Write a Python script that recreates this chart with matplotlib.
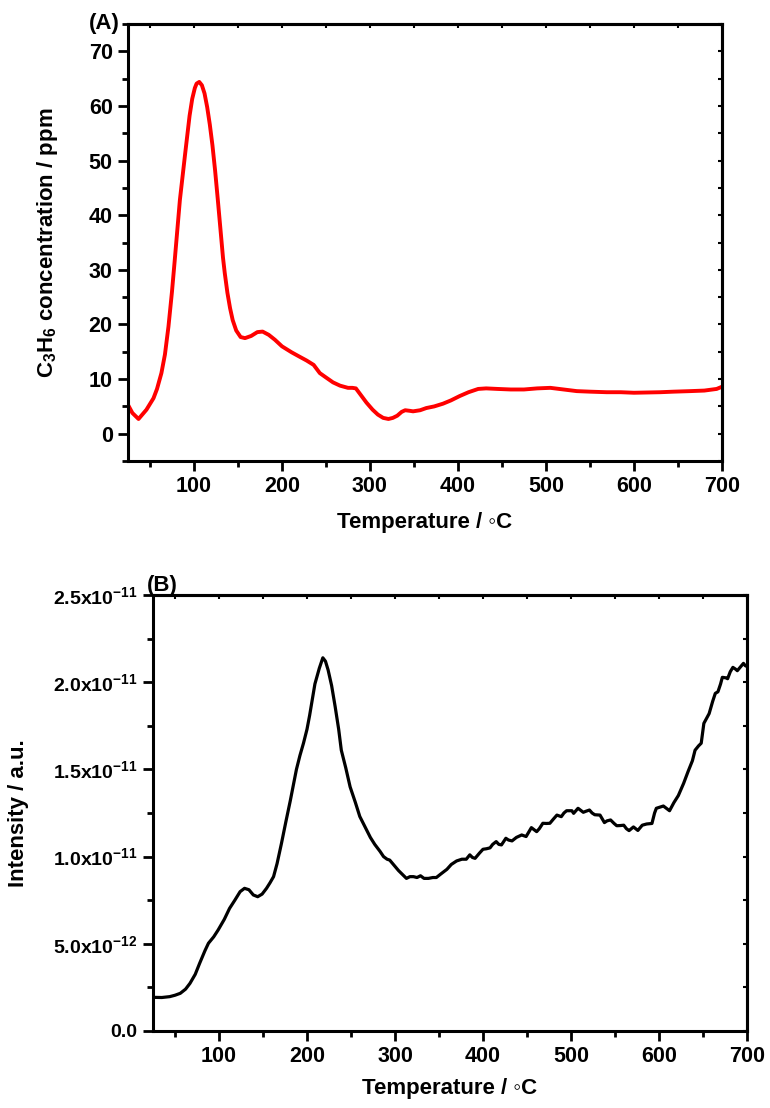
import matplotlib
matplotlib.use("Agg")
import matplotlib.pyplot as plt
from matplotlib.ticker import MultipleLocator, FuncFormatter

plt.rcParams['font.family'] = ['Liberation Sans', 'DejaVu Sans']
plt.rcParams['font.weight'] = 'bold'
plt.rcParams['mathtext.fontset'] = 'custom'
plt.rcParams['mathtext.rm'] = 'Liberation Sans:bold'
plt.rcParams['mathtext.bf'] = 'Liberation Sans:bold'
plt.rcParams['mathtext.it'] = 'Liberation Sans:bold'

# (A) C3H6 concentration during TPD
temp_a = [25, 30, 37, 46, 54, 58, 63, 67, 71, 75, 78, 84, 90, 95, 98, 101, 103, 106,
          109, 112, 115, 118, 121, 124, 127, 130, 133, 135, 138, 141, 144, 148, 153,
          158, 165, 172, 178, 185, 192, 200, 211, 220, 228, 236, 243, 250, 258, 266,
          275, 280, 284, 290, 296, 303, 309, 315, 321, 326, 331, 336, 340, 345, 349,
          357, 364, 373, 383, 392, 402, 412, 423, 432, 445, 460, 475, 490, 505, 520,
          535, 550, 569, 585, 600, 615, 630, 645, 664, 680, 694, 700]
c3h6_ppm = [5.3, 3.8, 2.7, 4.4, 6.5, 8.2, 11.1, 14.5, 19.6, 26.0, 31.5, 42.8, 51.3,
            58.2, 61.3, 63.3, 64.1, 64.4, 63.8, 62.3, 59.8, 56.6, 52.8, 48.2, 43.0,
            37.6, 32.2, 29.4, 25.8, 23.0, 20.8, 18.9, 17.7, 17.5, 17.9, 18.6, 18.7,
            18.1, 17.2, 16.0, 14.9, 14.1, 13.4, 12.6, 11.1, 10.3, 9.4, 8.8, 8.4,
            8.4, 8.3, 7.0, 5.7, 4.4, 3.5, 2.9, 2.7, 2.9, 3.3, 4.0, 4.3, 4.2, 4.1,
            4.3, 4.7, 5.0, 5.5, 6.1, 6.9, 7.6, 8.2, 8.3, 8.2, 8.1, 8.1, 8.3, 8.4,
            8.1, 7.8, 7.7, 7.6, 7.6, 7.5, 7.55, 7.6, 7.7, 7.8, 7.9, 8.2, 8.6]

# (B) MS signal, in units of 1e-12
temp_b = [25, 35, 44, 50, 56, 62, 67, 73, 78, 84, 88, 94, 99, 106, 112, 118, 124,
          129, 134, 139, 144, 149, 154, 158, 162, 166, 171, 176, 181, 188, 192,
          196, 200, 203, 209, 214, 218, 221, 224, 228, 232, 236, 239, 244, 249,
          255, 260, 266, 272, 277, 283, 287, 291, 294, 299, 304, 309, 313, 317,
          321, 325, 329, 333, 338, 343, 347, 352, 359, 364, 370, 376, 381, 385,
          388, 391, 396, 400, 404, 408, 411, 415, 418, 421, 426, 429, 433, 438,
          444, 449, 455, 461, 464, 468, 472, 476, 480, 484, 489, 492, 495, 501,
          503, 508, 514, 517, 521, 524, 527, 533, 538, 541, 545, 549, 552, 556,
          560, 563, 566, 571, 576, 581, 586, 592, 595, 597, 605, 609, 612, 617,
          622, 628, 633, 638, 641, 645, 648, 651, 657, 661, 664, 667, 670, 672,
          676, 678, 681, 684, 687, 689, 693, 696, 698, 700]
intensity_e12 = [1.93, 1.92, 1.97, 2.05, 2.16, 2.4, 2.73, 3.25, 3.88, 4.6, 5.03, 5.4,
                 5.79, 6.4, 7.03, 7.5, 7.99, 8.18, 8.1, 7.8, 7.7, 7.85, 8.18, 8.5,
                 8.85, 9.6, 10.76, 12.0, 13.2, 15.0, 15.8, 16.5, 17.3, 18.1, 19.9,
                 20.8, 21.4, 21.2, 20.7, 19.8, 18.6, 17.3, 16.1, 15.1, 14.0, 13.1,
                 12.3, 11.7, 11.1, 10.7, 10.3, 10.0, 9.85, 9.8, 9.5, 9.2, 8.95, 8.75,
                 8.85, 8.85, 8.8, 8.9, 8.75, 8.75, 8.8, 8.8, 9.0, 9.27, 9.55, 9.75,
                 9.85, 9.85, 10.1, 9.95, 9.9, 10.2, 10.42, 10.45, 10.5, 10.7, 10.86,
                 10.7, 10.67, 11.05, 10.95, 10.9, 11.1, 11.24, 11.15, 11.66, 11.43,
                 11.6, 11.91, 11.9, 11.91, 12.15, 12.38, 12.29, 12.5, 12.63, 12.63,
                 12.48, 12.77, 12.54, 12.6, 12.67, 12.5, 12.4, 12.38, 11.95, 12.05,
                 12.1, 11.9, 11.77, 11.78, 11.8, 11.6, 11.49, 11.7, 11.5, 11.8,
                 11.87, 11.9, 12.5, 12.77, 12.9, 12.75, 12.63, 13.1, 13.5, 14.2,
                 14.87, 15.5, 16.1, 16.35, 16.5, 17.64, 18.2, 18.9, 19.36, 19.45,
                 19.9, 20.28, 20.25, 20.2, 20.6, 20.85, 20.75, 20.66, 20.9, 21.08,
                 20.95, 20.9]

TICK_FS = 15.5
LABEL_FS = 16


def style_axes(ax, y_major, y_minor):
    ax.xaxis.set_major_locator(MultipleLocator(100))
    ax.xaxis.set_minor_locator(MultipleLocator(50))
    ax.yaxis.set_major_locator(MultipleLocator(y_major))
    ax.yaxis.set_minor_locator(MultipleLocator(y_minor))
    for sp in ax.spines.values():
        sp.set_linewidth(2.2)
    ax.tick_params(which='both', direction='out', width=2, top=False, right=False,
                   labelsize=TICK_FS, pad=4)
    ax.tick_params(which='major', length=7)
    ax.tick_params(which='minor', length=4)
    # small inward ticks mirrored on top and right
    sec_x = ax.secondary_xaxis('top')
    sec_x.xaxis.set_major_locator(MultipleLocator(100))
    sec_x.xaxis.set_minor_locator(MultipleLocator(50))
    sec_x.tick_params(which='both', direction='in', length=3, width=1.5, labeltop=False)
    sec_y = ax.secondary_yaxis('right')
    sec_y.yaxis.set_major_locator(MultipleLocator(y_major))
    sec_y.yaxis.set_minor_locator(MultipleLocator(y_minor))
    sec_y.tick_params(which='both', direction='in', length=3, width=1.5, labelright=False)
    sec_y.yaxis.offsetText.set_visible(False)
    sec_x.xaxis.offsetText.set_visible(False)
    for s in (sec_x, sec_y):
        for sp in s.spines.values():
            sp.set_linewidth(2.2)


def sci_label(v, pos):
    if abs(v) < 1e-20:
        return '0.0'
    exp = 0
    m = abs(v)
    while m >= 10 - 1e-9:
        m /= 10
        exp += 1
    while m < 1 - 1e-9:
        m *= 10
        exp -= 1
    return r'%.1fx10$^{\mathrm{%d}}$' % (m, exp)


fig = plt.figure(figsize=(7.7, 11.08), dpi=100)

# panel A
ax1 = fig.add_axes([0.1662, 0.5839, 0.7714, 0.3944])
ax1.plot(temp_a, c3h6_ppm, color='#ff0000', lw=2.8)
ax1.set_xlim(25, 700)
ax1.set_ylim(-5, 75)
style_axes(ax1, 10, 5)
ax1.set_xlabel('Temperature / \u25e6C', fontsize=LABEL_FS, fontweight='bold', va='center')
ax1.xaxis.set_label_coords(0.5, -0.140)
ax1.set_ylabel(r'C$_{\mathrm{3}}$H$_{\mathrm{6}}$ concentration / ppm', fontsize=LABEL_FS,
               fontweight='bold', va='center')
ax1.yaxis.set_label_coords(-0.135, 0.5)

# panel B
ax2 = fig.add_axes([0.1987, 0.0695, 0.7714, 0.3935])
ax2.plot(temp_b, [v * 1e-12 for v in intensity_e12], color='black', lw=2.3)
ax2.set_xlim(25, 700)
ax2.set_ylim(0, 2.5e-11)
style_axes(ax2, 5e-12, 2.5e-12)
ax2.yaxis.set_major_formatter(FuncFormatter(sci_label))
ax2.tick_params(axis='y', labelsize=14)
ax2.set_xlabel('Temperature / \u25e6C', fontsize=LABEL_FS, fontweight='bold', va='center')
ax2.xaxis.set_label_coords(0.5, -0.131)
ax2.set_ylabel('Intensity / a.u.', fontsize=LABEL_FS, fontweight='bold', va='center')
ax2.yaxis.set_label_coords(-0.227, 0.5)

fig.text(89 / 770, 1 - 23 / 1108, '(A)', fontsize=LABEL_FS, fontweight='bold',
         ha='left', va='center')
fig.text(147 / 770, 1 - 585 / 1108, '(B)', fontsize=LABEL_FS, fontweight='bold',
         ha='left', va='center')

fig.savefig('out.png', dpi=100)
